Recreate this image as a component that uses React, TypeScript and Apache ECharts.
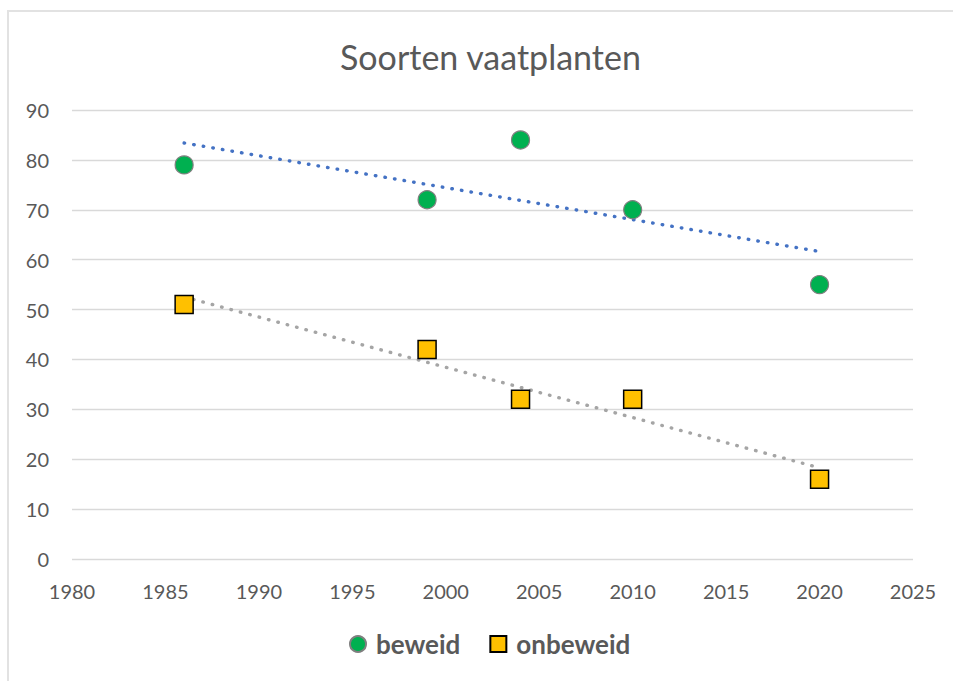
import React, { useEffect, useRef } from "react";
import * as echarts from "echarts";

const title = "Soorten vaatplanten";
const years = [1986, 1999, 2004, 2010, 2020];
const beweid = [79, 72, 84, 70, 55];
const onbeweid = [51, 42, 32, 32, 16];
const seriesNames = ["beweid", "onbeweid"];

function trend(xs: number[], ys: number[]): number[][] {
  const n = xs.length;
  const mx = xs.reduce((a, b) => a + b, 0) / n;
  const my = ys.reduce((a, b) => a + b, 0) / n;
  let sxy = 0;
  let sxx = 0;
  for (let i = 0; i < n; i++) {
    sxy += (xs[i] - mx) * (ys[i] - my);
    sxx += (xs[i] - mx) * (xs[i] - mx);
  }
  const b = sxy / sxx;
  const a = my - b * mx;
  const x0 = Math.min(...xs);
  const x1 = Math.max(...xs);
  return [
    [x0, a + b * x0],
    [x1, a + b * x1],
  ];
}

const FONT = "Lato, 'Open Sans', sans-serif";

export default function App() {
  const ref = useRef<HTMLDivElement>(null);
  useEffect(() => {
    if (!ref.current) return;
    const chart = echarts.init(ref.current, null, { renderer: "svg" });
    chart.setOption({
      animation: false,
      backgroundColor: "transparent",
      title: {
        text: title,
        left: 335,
        top: 34,
        textStyle: { fontFamily: FONT, fontSize: 34, fontWeight: "normal", color: "#595959" },
      },
      legend: {
        data: seriesNames,
        top: 626,
        left: 344,
        itemGap: 29,
        itemWidth: 16,
        itemHeight: 16,
        textStyle: {
          fontFamily: FONT,
          fontSize: 26,
          fontWeight: "bold",
          color: "#595959",
          padding: [0, 0, 0, 5],
        },
      },
      grid: { left: 72, right: 40, top: 110, bottom: 122, containLabel: false },
      xAxis: {
        type: "value",
        min: 1980,
        max: 2025,
        interval: 5,
        axisLine: { show: false },
        axisTick: { show: false },
        splitLine: { show: false },
        axisLabel: {
          fontFamily: FONT,
          fontSize: 20,
          color: "#595959",
          margin: 22,
          formatter: (v: number) => String(v),
        },
      },
      yAxis: {
        type: "value",
        min: 0,
        max: 90,
        interval: 10,
        axisLine: { show: false },
        axisTick: { show: false },
        splitLine: { lineStyle: { color: "#d9d9d9", width: 1.3 } },
        axisLabel: { fontFamily: FONT, fontSize: 20, color: "#595959", margin: 23 },
      },
      series: [
        {
          name: "beweid-trend",
          type: "line",
          data: trend(years, beweid),
          symbol: "none",
          silent: true,
          lineStyle: { color: "#4472C4", width: 3.4, type: [0.5, 9.2], cap: "round" },
          z: 1,
        },
        {
          name: "onbeweid-trend",
          type: "line",
          data: trend(years, onbeweid),
          symbol: "none",
          silent: true,
          lineStyle: { color: "#A5A5A5", width: 3.4, type: [0.5, 9.2], cap: "round" },
          z: 1,
        },
        {
          name: seriesNames[0],
          type: "scatter",
          symbol: "circle",
          symbolSize: 18,
          data: years.map((y, i) => [y, beweid[i]]),
          itemStyle: { color: "#00B050", borderColor: "#7f7f7f", borderWidth: 1.2, opacity: 1 },
          z: 3,
        },
        {
          name: seriesNames[1],
          type: "scatter",
          symbol: "rect",
          symbolSize: 18,
          data: years.map((y, i) => [y, onbeweid[i]]),
          itemStyle: { color: "#FFC000", borderColor: "#000000", borderWidth: 1.5, opacity: 1 },
          z: 3,
        },
      ],
    });
    return () => chart.dispose();
  }, []);
  return (
    <div style={{ position: "fixed", left: 0, top: 0, width: 953, height: 681, background: "#fff" }}>
      <div
        style={{
          position: "absolute",
          left: 7,
          top: 10,
          width: 960,
          height: 690,
          border: "2px solid #e2e2e2",
          boxSizing: "border-box",
        }}
      />
      <div ref={ref} style={{ position: "absolute", left: 0, top: 0, width: 953, height: 681 }} />
    </div>
  );
}
